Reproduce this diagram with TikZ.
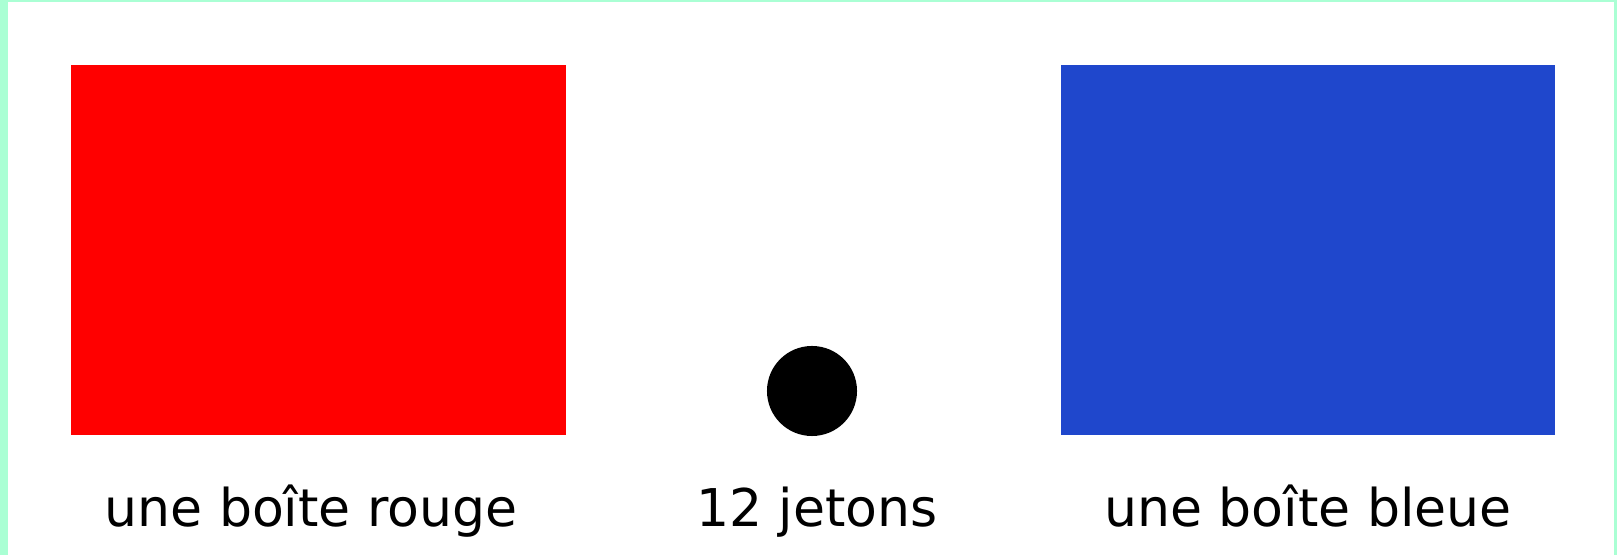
\documentclass[tikz,border=0pt]{standalone}
\usepackage{fontspec}
\setmainfont{DejaVu Sans}
\usepackage{tikz}
\definecolor{framegreen}{RGB}{170,255,212}
\definecolor{boxblue}{RGB}{31,71,204}

\begin{document}
\begin{tikzpicture}[x=0.01cm, y=0.01cm, font=\fontsize{14.8}{18}\selectfont]
		\useasboundingbox (0,0) rectangle (1617,555);
		% green frame round the white page
		\fill[framegreen] (0,0) rectangle (1617,555);
		\fill[white] (8,0) rectangle (1614,553);
		% the two boxes and the token
		\node[fill=red, inner sep=0pt, minimum width=4.95cm, minimum height=3.70cm, anchor=north west] (rouge) at (70,491) {};
		\node[fill=boxblue, inner sep=0pt, minimum width=4.94cm, minimum height=3.70cm, anchor=north west] (bleue) at (1060,491) {};
		\node[circle, fill=black, inner sep=0pt, minimum size=0.9cm] (jeton) at (812,164) {};
		% labels
		\node[anchor=base] (lrouge) at (311,28) {une boîte rouge};
		\node[anchor=base] (ljetons) at (817,28) {12 jetons};
		\node[anchor=base] (lbleue) at (1308,28) {une boîte bleue};
	\end{tikzpicture}
\end{document}
